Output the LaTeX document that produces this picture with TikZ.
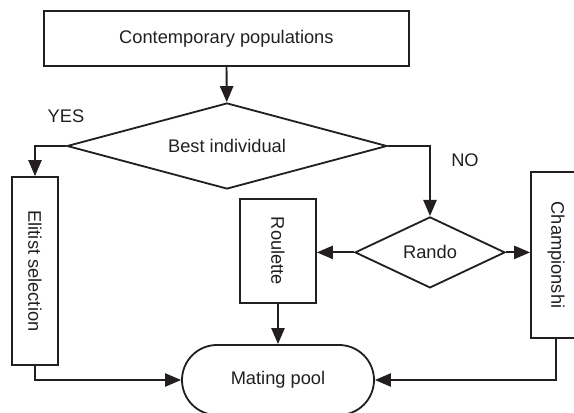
\documentclass[tikz,border=0pt]{standalone}
\usepackage{fontspec}
\setmainfont{Liberation Sans}
\usetikzlibrary{shapes.geometric,shapes.misc,arrows.meta}
\definecolor{ink}{HTML}{231F20}
\tikzset{
  box/.style={draw=ink, line width=1.3pt, rectangle, inner sep=0pt},
  choice/.style={draw=ink, line width=1.3pt, diamond, inner sep=0pt},
  flow/.style={draw=ink, line width=1.3pt, -{Triangle[length=4mm,width=3.3mm]}}
}
\begin{document}
\begin{tikzpicture}[font=\fontsize{13}{15}\selectfont, text=ink]
  \clip (0,0) rectangle (14.35,10.3);
  \node [box, minimum width=9.125cm, minimum height=1.375cm] (popul) at (5.66,9.34) {Contemporary populations};
  \node [choice, shape aspect=3.7, minimum width=8cm, minimum height=2.15cm] (best) at (5.675,6.65) {Best individual};
  \node [box, minimum width=1.15cm, minimum height=4.7cm] (elit) at (0.875,3.525) {\rotatebox{-90}{Elitist selection}};
  \node [box, minimum width=1.9cm, minimum height=2.6cm] (roul) at (6.95,4.025) {\rotatebox{-90}{Roulette}};
  \node [choice, shape aspect=2, minimum width=3.75cm, minimum height=1.775cm] (rando) at (10.75,3.99) {Rando};
  \node [box, minimum width=1.25cm, minimum height=4.15cm] (champ) at (13.9,3.925) {\rotatebox{-90}{Championshi}};
  \node [draw=ink, line width=1.3pt, rounded rectangle, minimum width=4.8cm, minimum height=1.75cm, inner sep=0pt] (pool) at (6.95,0.8) {Mating pool};
  \node (yes) at (1.65,7.4) {YES};
  \node (no) at (11.625,6.3) {NO};

  \draw [flow] (popul) -- (best);
  \draw [flow] (best.west) -| (elit.north);
  \draw [flow] (best.east) -| (rando.north);
  \draw [flow] (rando.west) -- (rando.west -| roul.east);
  \draw [flow] (rando.east) -- (rando.east -| champ.west);
  \draw [flow] (roul) -- (pool);
  \draw [flow] (elit.south) |- (pool.west);
  \draw [flow] (champ.south) |- (pool.east);
\end{tikzpicture}
\end{document}
